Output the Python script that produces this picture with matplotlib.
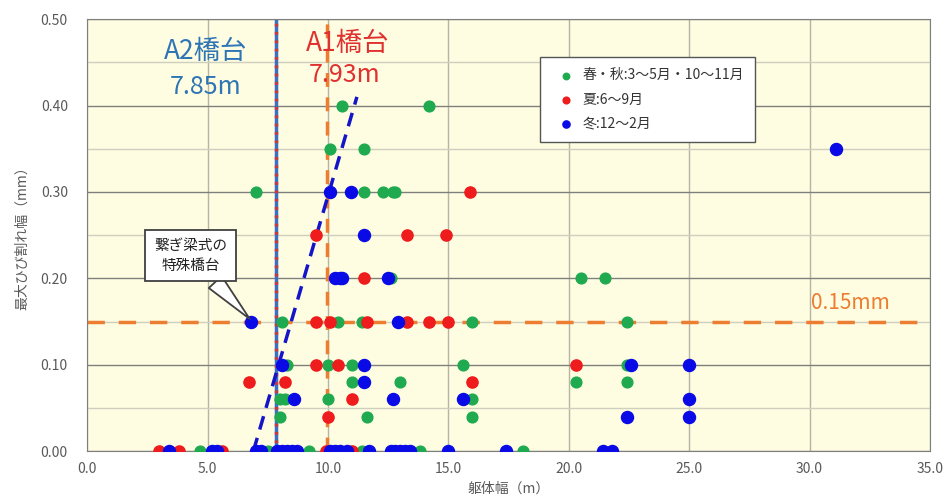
import matplotlib
matplotlib.use('Agg')
import matplotlib.pyplot as plt

plt.rcParams['font.family'] = ['Noto Sans CJK JP', 'DejaVu Sans']

# 春・秋
green_x = [10.6, 14.2, 10.1, 11.5, 7.0, 11.5, 12.3, 12.7, 12.8, 20.5, 21.5, 12.6,
           8.1, 10.4, 11.4, 16.0, 22.4, 8.3, 10.0, 11.0, 15.6, 22.4,
           11.0, 13.0, 20.3, 22.4, 8.0, 8.2, 10.0, 16.0, 8.0, 11.6, 16.0,
           4.7, 7.5, 9.2, 11.4, 13.8, 18.1]
green_y = [0.40, 0.40, 0.35, 0.35, 0.30, 0.30, 0.30, 0.30, 0.30, 0.20, 0.20, 0.20,
           0.15, 0.15, 0.15, 0.15, 0.15, 0.10, 0.10, 0.10, 0.10, 0.10,
           0.08, 0.08, 0.08, 0.08, 0.06, 0.06, 0.06, 0.06, 0.04, 0.04, 0.04,
           0.0, 0.0, 0.0, 0.0, 0.0, 0.0]
# 夏
red_x = [15.9, 9.5, 13.3, 14.9, 11.5, 9.5, 10.1, 11.6, 13.3, 14.2, 15.0,
         9.5, 10.4, 20.3, 6.7, 8.2, 16.0, 11.0, 10.0,
         3.0, 3.8, 5.6, 9.9, 11.0]
red_y = [0.30, 0.25, 0.25, 0.25, 0.20, 0.15, 0.15, 0.15, 0.15, 0.15, 0.15,
         0.10, 0.10, 0.10, 0.08, 0.08, 0.08, 0.06, 0.04,
         0.0, 0.0, 0.0, 0.0, 0.0]
# 冬
blue_x = [31.1, 10.1, 10.95, 11.5, 10.3, 10.5, 10.6, 12.5, 6.8, 12.9,
          8.1, 11.5, 22.6, 25.0, 11.5, 8.6, 12.7, 15.6, 25.0, 22.4, 25.0,
          3.4, 5.2, 5.4, 7.0, 7.2, 7.9, 8.1, 8.3, 8.5, 8.7, 10.1, 10.3, 10.5, 10.8,
          11.7, 12.6, 12.8, 13.0, 13.2, 13.4, 15.0, 17.4, 21.4, 21.8]
blue_y = [0.35, 0.30, 0.30, 0.25, 0.20, 0.20, 0.20, 0.20, 0.15, 0.15,
          0.10, 0.10, 0.10, 0.10, 0.08, 0.06, 0.06, 0.06, 0.06, 0.04, 0.04,
          0.0, 0.0, 0.0, 0.0, 0.0, 0.0, 0.0, 0.0, 0.0, 0.0, 0.0, 0.0, 0.0, 0.0,
          0.0, 0.0, 0.0, 0.0, 0.0, 0.0, 0.0, 0.0, 0.0, 0.0]

labels = ['春・秋:3～5月・10～11月', '夏:6～9月', '冬:12～2月']
x_ticks = [0, 5, 10, 15, 20, 25, 30, 35]
y_ticks = [0.0, 0.1, 0.2, 0.3, 0.4, 0.5]
y_minor = [0.05, 0.15, 0.25, 0.35, 0.45]
a2_x = 7.85
a1_x = 9.95
limit_y = 0.15
trend_x = [6.9, 11.2]
trend_y = [0.0, 0.41]

fig = plt.figure(figsize=(9.48, 5.03), dpi=100)
ax = fig.add_axes([0.092, 0.103, 0.889, 0.859])
ax.set_facecolor('#fefde1')

ax.set_xticks(x_ticks)
ax.set_xticklabels([f'{v:.1f}' for v in x_ticks])
ax.set_yticks(y_ticks)
ax.set_yticklabels([f'{v:.2f}' for v in y_ticks])
ax.set_yticks(y_minor, minor=True)
ax.set_xlim(0, 35)
ax.set_ylim(0, 0.5)
ax.tick_params(which='both', length=0, colors='#595959', labelsize=10)
ax.tick_params(axis='x', pad=8)
ax.tick_params(axis='y', pad=14)
ax.grid(axis='y', which='major', color='#7f7f7f', lw=1.0)
ax.grid(axis='y', which='minor', color='#cfcfc0', lw=1.0)
ax.grid(axis='x', which='major', color='#b5b5a5', lw=1.0)
ax.set_axisbelow(True)
for s in ax.spines.values():
    s.set_color('#7f7f7f')

ax.set_xlabel('躯体幅（m）', color='#595959', fontsize=10)
ax.set_ylabel('最大ひび割れ幅（mm）', color='#595959', fontsize=10, labelpad=8)

# reference lines
ax.axhline(limit_y, color='#ed7d31', lw=2.5, dashes=(5, 4), zorder=2)
ax.axvline(a1_x, color='#ed7d31', lw=2.5, dashes=(4, 3), zorder=2)
ax.axvline(a2_x, color='#3a6fc4', lw=2.5, zorder=2)
ax.axvline(a2_x, color='#c83a3a', lw=2.5, dashes=(0.8, 1.6), zorder=2)
ax.plot(trend_x, trend_y, color='#1414c8', lw=2.5, dashes=(4, 2.5), zorder=2)

ax.scatter(green_x, green_y, s=60, color='#1faa50', label=labels[0], zorder=3)
ax.scatter(red_x, red_y, s=65, color='#ee1c1c', label=labels[1], zorder=3)
ax.scatter(blue_x, blue_y, s=75, color='#0a0ae6', label=labels[2], zorder=4)

ax.text(4.9, 0.462, 'A2橋台', color='#2e75b6', fontsize=19, ha='center', va='center')
ax.text(4.9, 0.421, '7.85m', color='#2e75b6', fontsize=18, ha='center', va='center')
ax.text(10.8, 0.472, 'A1橋台', color='#e03030', fontsize=19, ha='center', va='center')
ax.text(10.7, 0.435, '7.93m', color='#e03030', fontsize=18, ha='center', va='center')
ax.text(31.7, 0.171, '0.15mm', color='#ed7d31', fontsize=15, ha='center', va='center')

ax.annotate('繋ぎ梁式の\n特殊橋台', xy=(6.75, 0.153), xytext=(4.3, 0.226),
            ha='center', va='center', fontsize=10.5, color='#222222', linespacing=1.5,
            bbox=dict(boxstyle='square,pad=0.6', fc='white', ec='#404040', lw=1.3),
            arrowprops=dict(arrowstyle='wedge,tail_width=1.2', fc='white', ec='#404040',
                            lw=1.3, shrinkA=0, shrinkB=0),
            zorder=5)
# widen the callout box to the reference proportions
ax.texts[-1].get_bbox_patch().set_boxstyle('square', pad=0.6)

leg = ax.legend(loc='upper left', bbox_to_anchor=(0.537, 0.912), fontsize=10,
                frameon=True, fancybox=False, edgecolor='#555555', framealpha=1,
                handletextpad=0.1, labelspacing=0.75, borderpad=0.8,
                markerscale=0.6, handlelength=2.2, borderaxespad=0)
leg.get_frame().set_linewidth(1.0)
for t in leg.get_texts():
    t.set_color('#333333')
leg.set_zorder(6)

fig.savefig('out.png', dpi=100)
